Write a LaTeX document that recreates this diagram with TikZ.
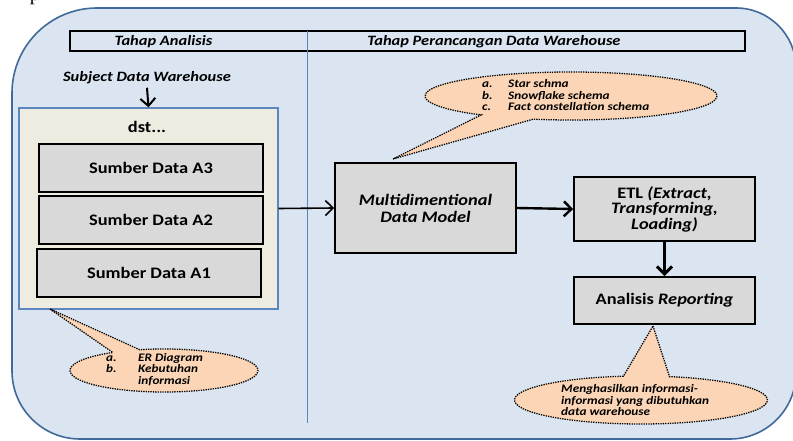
\documentclass[tikz,border=0pt]{standalone}
\usepackage{fontspec}
\setmainfont{Carlito}[FakeStretch=1.15]
\newfontfamily\pageserif{Liberation Serif}
\usetikzlibrary{arrows.meta,calc}

\definecolor{bgblue}{HTML}{DBE5F1}
\definecolor{frameblue}{HTML}{41699A}
\definecolor{lineblue}{HTML}{5B86BE}
\definecolor{tanfill}{HTML}{EEECE1}
\definecolor{boxgray}{HTML}{D9D9D9}
\definecolor{peach}{HTML}{FBD5B5}

\tikzset{
  boxtext/.style={font=\bfseries\fontsize{16}{18}\selectfont},
  headtext/.style={font=\bfseries\itshape\fontsize{14.3}{15}\selectfont},
  graybox/.style={draw=black, line width=1.8, fill=boxgray, boxtext,
    align=center, inner sep=0},
  callout/.style={fill=peach, draw=black, line width=1.3,
    dash pattern=on 1.3pt off 1.1pt},
  calltext/.style={font=\bfseries\itshape\fontsize{11.5}{11.5}\selectfont,
    inner sep=0, anchor=west},
  flow/.style={draw=black, line width=#1,
    -{Straight Barb[length=7.5pt,width=15pt,line width=#1]}},
  flow/.default=2
}
\renewcommand\arraystretch{1}

\begin{document}
\begin{tikzpicture}[x=1pt,y=-1pt]
\useasboundingbox (0,0) rectangle (793,441);

% fragment of the page text above the figure
\node[font=\pageserif\fontsize{20}{20}\selectfont, anchor=base, inner sep=0]
  (pfrag) at (35,1) {p};

% rounded background panel
\path[fill=bgblue, draw=frameblue, line width=1.6]
  (12,250) -- (12,93) arc[start angle=180, end angle=270, radius=85]
  -- (736,8) arc[start angle=270, end angle=360, radius=60]
  -- (796,373) arc[start angle=0, end angle=90, radius=66]
  -- (80,439) arc[start angle=90, end angle=180, radius=68] -- cycle;

% header bar and phase divider
\node[draw=black, line width=2, fill=bgblue, minimum width=675,
  minimum height=20, inner sep=0] (header) at (407.5,41) {};
\coordinate (divtop) at (307,31);
\coordinate (divbot) at (307,423);
\draw[lineblue, line width=0.8] (divtop) -- (divbot);
\node[headtext] (tahapA) at (163.5,41.5) {Tahap Analisis};
\node[headtext] (tahapP) at (494,41.5) {Tahap Perancangan Data Warehouse};

% analysis phase
\node[headtext] (subject) at (147,78) {Subject Data Warehouse};
\node[draw=lineblue, line width=1.4, fill=tanfill, minimum width=259,
  minimum height=201, inner sep=0] (sources) at (148.5,208.5) {};
\node[boxtext] (dst) at (147,127) {dst...};
\node[graybox, minimum width=224, minimum height=48] (srcA3) at (151,168) {Sumber Data A3};
\node[graybox, minimum width=224, minimum height=48] (srcA2) at (151,220) {Sumber Data A2};
\node[graybox, minimum width=224, minimum height=48] (srcA1) at (149,273) {Sumber Data A1};

% design phase
\node[graybox, minimum width=181, minimum height=90,
  font=\bfseries\itshape\fontsize{16}{17}\selectfont] (mdm) at (425.5,208)
  {Multidimentional\\Data Model};
\node[graybox, minimum width=181, minimum height=64,
  font=\bfseries\fontsize{16}{15.5}\selectfont] (etl) at (664.5,209)
  {ETL \textit{(Extract,}\\\textit{Transforming,}\\\textit{Loading)}};
\node[graybox, minimum width=181, minimum height=47] (report) at (664.5,300.5)
  {Analisis \textit{Reporting}};

% flow arrows
\draw[flow=2] (subject.south) -- (sources.north);
\draw[flow=1.6] (sources.east) -- (mdm.west);
\draw[flow=2.4] (mdm.east) -- (etl.west);
\draw[flow=3] (etl.south) -- (report.north);

% callouts
\path[callout] (393,159) -- ($(571,96)+(105:146 and 24)$)
  arc[start angle=105, end angle=-232, x radius=146, y radius=24] -- cycle;
\node[calltext] (schemas) at (482,97) {\begin{tabular}{@{}p{26pt}@{}l@{}}
  a. & Star schma\\ b. & Snowflake schema\\ c. & Fact constellation schema\end{tabular}};

\path[callout] (50,309) -- ($(164,370.5)+(-123:94 and 21.5)$)
  arc[start angle=-123, end angle=-465, x radius=94, y radius=21.5] -- cycle;
\node[calltext] (needs) at (106,370.5) {\begin{tabular}{@{}p{32pt}@{}l@{}}
  a. & ER Diagram\\ b. & Kebutuhan\\ & informasi\end{tabular}};

\path[callout] (653,326) -- ($(641,400)+(-77:126.5 and 24)$)
  arc[start angle=-77, end angle=262, x radius=126.5, y radius=24] -- cycle;
\node[calltext, align=left] (output) at (561,400.5)
  {Menghasilkan informasi-\\informasi yang dibutuhkan\\data warehouse};
\end{tikzpicture}
\end{document}
